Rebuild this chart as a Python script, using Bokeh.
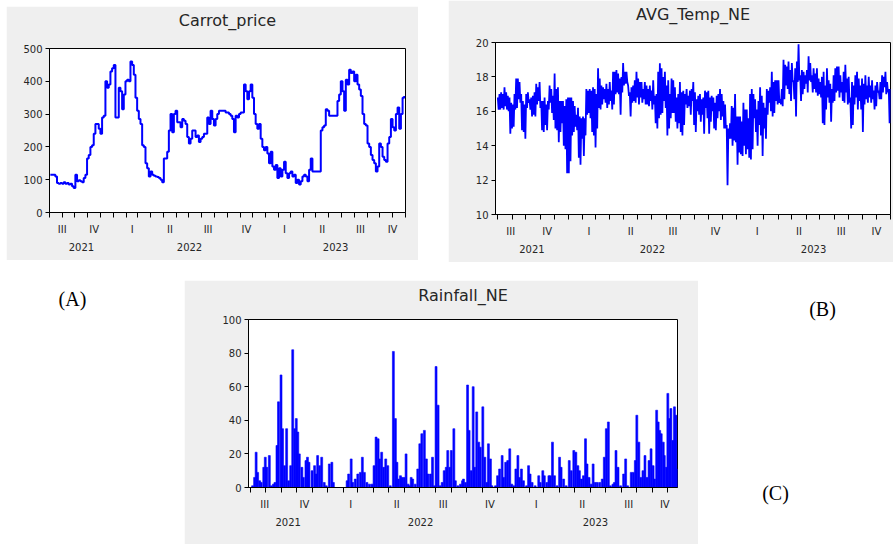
import pandas as pd
from bokeh.plotting import figure
from bokeh.models import (Range1d, FixedTicker, LinearAxis, CustomJSTickFormatter,
                          Label, Spacer)
from bokeh.layouts import row, column
from bokeh.embed import file_html
from bokeh.resources import INLINE

# ---------------- DATA ----------------
# Carrot price, one reading every 4 days from 2021-08-03
carrot_start = "2021-08-03"
carrot_price = [
    115, 115, 115, 110, 90, 88, 90, 88, 92, 88,
    90, 85, 88, 80, 75, 115, 95, 98, 95, 92,
    105, 115, 165, 175, 200, 205, 240, 270, 270, 255,
    240, 290, 295, 400, 380, 390, 430, 440, 450, 290,
    290, 380, 370, 315, 360, 400, 405, 400, 460, 450,
    420, 350, 310, 285, 270, 205, 200, 150, 135, 110,
    125, 115, 112, 110, 108, 105, 100, 92, 165, 165,
    185, 250, 300, 245, 300, 310, 275, 275, 260, 285,
    280, 270, 230, 210, 225, 250, 250, 230, 235, 215,
    225, 230, 240, 240, 290, 270, 310, 285, 265, 285,
    300, 310, 310, 310, 310,
    305, 305, 300, 295, 285, 245, 295, 290, 300, 305,
    305, 390, 370, 345, 370, 390, 350, 300, 270, 255,
    270, 225, 200, 190, 200, 180, 150, 185, 140, 130,
    145, 105, 135, 110, 130, 155, 120, 105, 120, 125,
    110, 115, 90, 100, 85, 95, 110, 115, 110, 95,
    130, 165, 125, 125, 125, 125, 125, 250, 260, 265,
    315, 310, 295, 295, 295, 295, 295, 340, 360, 400,
    370, 310, 405, 390, 435, 425, 430, 400, 420, 390,
    375, 355, 300, 270, 265, 210, 200, 175, 160, 150,
    125, 140, 210, 200, 170, 160, 155, 210, 230, 285,
    260, 250, 300, 320, 255, 300, 350, 355,
]

# Average temperature NE: upper and lower swing of each ~3.6-day step from 2021-08-01
temp_start = "2021-08-01"
temp_high = [
    16.8, 17.0, 17.1, 17.0, 17.4, 17.1, 16.9, 16.8, 16.5, 16.4,
    17.0, 17.9, 17.9, 17.7, 17.0, 16.6, 16.4, 17.0, 17.1, 16.7,
    16.8, 16.9, 17.1, 17.6, 17.4, 17.7, 16.6, 16.6, 16.8, 16.4,
    16.6, 17.5, 17.3, 16.9, 18.2, 17.3, 17.4, 16.6, 16.6, 16.6,
    16.3, 16.7, 16.8, 16.8, 16.8, 16.6, 16.3, 15.8, 16.2, 15.7,
    15.6, 15.7, 15.6, 17.3, 17.2, 17.3, 17.2, 17.4, 17.3, 17.0,
    18.5, 17.9, 17.5, 17.4, 17.3, 17.6, 17.3, 17.7, 17.2, 18.3,
    18.3, 18.4, 18.2, 17.9, 18.0, 18.8, 18.3, 18.3, 17.5, 17.1,
    17.4, 17.5, 17.8, 18.3, 17.9, 17.7, 17.7, 17.3, 17.7, 17.5,
    17.3, 17.5, 17.2, 17.8, 16.9, 17.0, 18.3, 18.8, 18.5, 18.0,
    18.3, 17.5, 17.8, 17.0, 17.9, 17.8, 17.4, 16.8, 17.0, 17.7,
    17.1, 17.2, 17.0, 17.3, 16.9, 17.2,
    17.3, 17.7, 17.1, 16.7, 16.9, 17.0, 16.7, 16.8, 17.2, 17.1,
    17.2, 16.8, 16.9, 16.8, 16.5, 16.9, 17.0, 17.3, 17.0, 16.6,
    16.4, 15.2, 15.0, 15.3, 16.3, 16.2, 17.0, 15.7, 15.7, 15.7,
    15.4, 16.5, 16.1, 16.1, 15.6, 17.0, 17.3, 17.0, 16.7, 16.1,
    16.6, 17.4, 16.9, 16.5, 16.2, 17.3, 17.2, 17.4, 18.3, 17.7,
    17.8, 17.8, 17.8, 16.7, 17.3, 19.0, 18.7, 18.6, 18.9, 18.4,
    18.8, 17.8, 18.5, 18.9, 19.9, 18.1, 18.4, 18.3, 18.1, 18.4,
    19.2, 18.8, 18.1, 18.5, 18.2, 18.5, 17.9, 17.7, 18.0, 18.3,
    17.5, 18.5, 17.8, 17.6, 17.3, 18.1, 18.5, 18.6, 18.6, 18.1,
    17.7, 18.3, 18.7, 17.9, 18.0, 16.8, 17.7, 17.5, 18.1, 18.3,
    17.9, 17.5, 17.9, 17.6, 18.1, 17.5, 18.0, 17.5, 17.8, 17.2,
    17.5, 17.7, 17.2, 17.7, 18.1, 18.0, 18.3, 17.7, 17.3, 17.3,
]
temp_low = [
    16.1, 16.1, 16.2, 16.1, 16.3, 16.1, 16.0, 14.7, 15.0, 15.1,
    16.1, 16.2, 16.7, 16.5, 14.9, 14.8, 14.4, 16.2, 16.5, 16.1,
    15.7, 15.8, 15.7, 16.4, 16.6, 16.2, 14.9, 14.8, 15.2, 14.9,
    16.1, 16.5, 15.9, 15.5, 15.0, 14.9, 14.2, 14.8, 15.3, 14.0,
    13.8, 12.4, 12.4, 13.1, 14.6, 14.8, 15.1, 14.9, 13.3, 12.9,
    14.4, 13.4, 14.6, 15.8, 15.9, 15.6, 14.8, 14.6, 13.9, 15.0,
    16.2, 16.1, 16.4, 16.7, 16.5, 16.2, 16.4, 16.6, 16.1, 16.4,
    17.0, 17.1, 17.0, 15.8, 17.1, 17.5, 17.6, 17.7, 16.9, 15.7,
    16.5, 16.6, 16.5, 16.8, 16.4, 16.8, 16.5, 16.7, 16.4, 16.4,
    16.3, 16.6, 16.1, 16.4, 15.3, 15.0, 15.6, 15.8, 15.9, 16.6,
    16.2, 14.6, 15.0, 15.6, 15.9, 15.9, 15.4, 15.0, 15.3, 14.8,
    14.6, 15.2, 16.4, 16.2, 16.3, 15.8,
    16.6, 15.2, 14.8, 16.0, 15.8, 15.4, 15.8, 14.7, 16.2, 15.6,
    14.7, 15.4, 16.0, 15.0, 14.9, 15.6, 16.0, 15.5, 15.7, 15.0,
    15.0, 11.7, 14.4, 14.4, 14.0, 14.3, 14.2, 12.9, 13.6, 13.5,
    13.4, 14.0, 13.5, 13.8, 13.3, 13.2, 13.8, 15.6, 14.8, 14.0,
    15.2, 14.6, 13.4, 15.0, 14.4, 15.8, 16.5, 16.0, 15.7, 15.9,
    16.6, 16.4, 16.5, 16.4, 16.3, 16.7, 17.5, 17.3, 17.0, 16.6,
    17.7, 16.7, 15.7, 17.7, 17.8, 16.6, 17.0, 17.3, 17.6, 17.1,
    17.8, 17.7, 17.1, 17.3, 17.1, 16.9, 17.0, 16.8, 15.3, 15.2,
    16.1, 16.8, 16.5, 15.4, 16.5, 16.6, 17.1, 17.2, 16.8, 17.1,
    16.6, 16.5, 17.1, 16.4, 16.5, 15.0, 15.2, 16.4, 16.8, 16.1,
    16.6, 16.1, 14.8, 16.4, 16.7, 16.5, 16.8, 16.5, 16.7, 16.1,
    16.3, 17.1, 16.7, 16.7, 17.1, 17.4, 17.0, 17.1, 15.3, 16.5,
]

# Rainfall NE: rainy days (days after 2021-07-29) and amounts
rain_start = "2021-07-29"
rain_day = [
    8, 12, 15, 18, 22, 25, 30, 33, 36, 41,
    45, 49, 52, 56, 59, 64, 67, 71, 75, 79,
    83, 87, 91, 94, 97, 100, 105, 108, 113, 116,
    119, 125, 130, 133, 136, 140, 144, 149, 153, 159,
    164, 167, 194, 197, 202, 205, 210, 215, 220, 224,
    228, 233, 238, 243, 247, 251, 255, 258, 262, 266,
    270, 274, 279, 285, 289, 292, 295, 299, 302, 306,
    310, 314, 317, 320, 323, 328, 333, 337, 341, 346,
    350, 353, 358, 362, 366, 369, 373, 377, 381, 385,
    389, 392, 396, 399, 404, 407, 412, 417, 421, 423,
    427, 431, 434, 438, 442, 445, 449, 453, 456, 461,
    465, 469, 472, 476, 479, 486, 490, 494, 499, 502,
    506, 510, 514, 518, 522, 526, 530, 533, 537, 541,
    547, 551, 554, 558, 564, 571, 574, 579, 582, 587,
    591, 594, 598, 602, 607, 612, 615, 620, 625, 631,
    635, 640, 644, 648, 651, 655, 659, 663, 666, 670,
    674, 678, 682, 686, 691, 696, 700, 704, 708, 712,
    717, 720, 723, 727, 732, 738, 742, 746, 753, 757,
    761, 764, 768, 772, 776, 780, 784, 788, 792, 796,
    799, 803, 806, 809, 812, 816, 818, 822, 825, 828,
    831, 835, 838, 841, 843,
]
rain_mm = [
    1, 6, 21, 9, 4, 3, 12, 18, 12, 19,
    1, 2, 3, 25, 51, 67, 35, 13, 35, 4,
    13, 82, 35, 41, 33, 20, 12, 6, 16, 18,
    15, 10, 13, 8, 19, 13, 18, 3, 1, 14,
    15, 3, 4, 8, 17, 3, 5, 8, 9, 18,
    9, 3, 2, 2, 13, 30, 29, 17, 21, 12,
    17, 13, 1, 81, 41, 15, 5, 7, 6, 6,
    20, 2, 1, 6, 5, 2, 11, 26, 32, 34,
    17, 8, 8, 18, 1, 72, 49, 1, 3, 10,
    12, 22, 12, 22, 35, 4, 1, 2, 4, 5,
    3, 61, 34, 10, 60, 12, 45, 27, 24, 48,
    18, 3, 26, 17, 1, 1, 7, 11, 19, 6,
    15, 16, 23, 2, 1, 11, 19, 6, 11, 4,
    1, 13, 8, 3, 1, 7, 3, 10, 7, 3,
    7, 7, 27, 7, 1, 18, 12, 5, 1, 16,
    10, 22, 21, 13, 10, 5, 7, 29, 14, 6,
    2, 14, 3, 3, 3, 5, 18, 35, 39, 1,
    2, 3, 22, 12, 1, 8, 17, 1, 9, 9,
    16, 43, 27, 6, 10, 19, 6, 16, 23, 13,
    5, 46, 39, 34, 32, 27, 19, 12, 56, 41,
    47, 28, 48, 43, 11,
]

carrot_ticks = [0, 100, 200, 300, 400, 500]
temp_ticks = [10, 12, 14, 16, 18, 20]
rain_ticks = [0, 20, 40, 60, 80, 100]
quarter_names = ["I", "II", "III", "IV"]
years = [2021, 2022, 2023]

# ---------------- HELPERS ----------------
DAY_MS = 86400000
TXT = "#262626"
GREY = "#efefef"
BLUE = "#0000ff"
SANS = "DejaVu Sans"


def ms(d):
    return pd.Timestamp(d).value // 10**6


def period_marks(start, end):
    s, e = pd.Timestamp(start), pd.Timestamp(end)
    months = [ms(d) for d in pd.date_range("2021-01-01", "2024-12-01", freq="MS") if s <= d <= e]
    qt, ql = [], []
    for q in pd.date_range("2021-01-01", "2024-10-01", freq="3MS"):
        a, b = max(q, s), min(q + pd.DateOffset(months=3), e)
        if b > a:
            qt.append((ms(a) + ms(b)) / 2)
            ql.append(quarter_names[(q.month - 1) // 3])
    yt, yl = [], []
    for yr in years:
        y0 = pd.Timestamp(f"{yr}-01-01")
        a, b = max(y0, s), min(y0 + pd.DateOffset(years=1), e)
        if b > a:
            yt.append((ms(a) + ms(b)) / 2)
            yl.append(str(yr))
    return months, qt, ql, yt, yl


FMT = ("for (let i = 0; i < tv.length; i++) { if (Math.abs(tv[i] - tick) < 1000) "
       "{ return lb[i]; } } return '';")


def panel(title, width, height, borders, xr, yr, yticks, title_pad):
    l, r, t, b = borders
    p = figure(width=width, height=height,
               x_range=Range1d(ms(xr[0]), ms(xr[1])), y_range=Range1d(*yr),
               output_backend="svg", toolbar_location=None,
               x_axis_location=None, y_axis_location="left",
               min_border_left=l, min_border_right=r,
               min_border_top=t, min_border_bottom=b)
    p.grid.grid_line_color = None
    p.background_fill_color = "white"
    p.border_fill_color = GREY
    p.outline_line_color = "black"
    p.outline_line_alpha = 1.0
    p.outline_line_width = 1
    p.title.text = title
    p.title.align = "center"
    p.title.text_font = SANS
    p.title.text_font_size = "16px"
    p.title.text_font_style = "normal"
    p.title.text_color = TXT
    p.title.standoff = 4
    p.title.padding = dict(left=0, right=0, top=0, bottom=title_pad)

    ya = p.yaxis[0]
    ya.ticker = FixedTicker(ticks=yticks)
    ya.major_tick_in = 0
    ya.major_tick_out = 4
    ya.minor_tick_line_color = None
    ya.axis_line_color = "black"
    ya.major_label_text_font = SANS
    ya.major_label_text_font_size = "10px"
    ya.major_label_text_color = TXT
    ya.major_label_standoff = 3

    months, qt, ql, yt, yl = period_marks(*xr)
    qa = LinearAxis(ticker=FixedTicker(ticks=qt, minor_ticks=months),
                    formatter=CustomJSTickFormatter(args=dict(tv=qt, lb=ql), code=FMT))
    qa.major_tick_line_color = None
    qa.major_tick_in = 0
    qa.major_tick_out = 0
    qa.minor_tick_in = 0
    qa.minor_tick_out = 5
    qa.minor_tick_line_color = "black"
    qa.minor_tick_line_width = 1
    qa.axis_line_color = "black"
    qa.major_label_text_font = SANS
    qa.major_label_text_font_size = "10px"
    qa.major_label_text_color = TXT
    qa.major_label_standoff = 6
    p.add_layout(qa, "below")

    ya2 = LinearAxis(ticker=FixedTicker(ticks=yt, minor_ticks=[]),
                     formatter=CustomJSTickFormatter(args=dict(tv=yt, lb=yl), code=FMT))
    ya2.axis_line_color = None
    ya2.major_tick_line_color = None
    ya2.minor_tick_line_color = None
    ya2.major_tick_in = 0
    ya2.major_tick_out = 0
    ya2.major_label_text_font = SANS
    ya2.major_label_text_font_size = "10px"
    ya2.major_label_text_color = TXT
    ya2.major_label_standoff = 5
    p.add_layout(ya2, "below")
    return p


def label_fig(width, height, labels):
    f = figure(width=width, height=height, x_range=Range1d(0, width),
               y_range=Range1d(0, height),
               output_backend="svg", toolbar_location=None, min_border=0,
               x_axis_location=None, y_axis_location=None)
    f.title.visible = False
    f.grid.grid_line_color = None
    f.outline_line_color = None
    f.background_fill_color = "white"
    f.border_fill_color = "white"
    for txt, x, y in labels:
        f.add_layout(Label(x=x, y=height - y, text=txt, text_font="Liberation Serif",
                           text_font_size="20px", text_color="black",
                           text_align="center", text_baseline="middle"))
    return f


# ---------------- PANEL A: Carrot price ----------------
pA = panel("Carrot_price", 412, 254, (43, 13, 42, 48),
           ("2021-08-01", "2023-12-02"), (0, 500), carrot_ticks, 17)
carrot_x = [ms(d) for d in pd.date_range(carrot_start, periods=len(carrot_price), freq="4D")]
pA.step(carrot_x, carrot_price, mode="after", line_color=BLUE, line_width=2)

# ---------------- PANEL B: AVG temperature ----------------
pB = panel("AVG_Temp_NE", 445, 262, (47, 3, 42, 48),
           ("2021-07-27", "2023-12-01"), (10, 20), temp_ticks, 17)
t_hi_x = [ms(d) for d in pd.date_range(temp_start, periods=len(temp_high), freq="87h")]
temp_x, temp_y = [], []
for xh, h, lo in zip(t_hi_x, temp_high, temp_low):
    temp_x += [xh, xh + 1.8 * DAY_MS]
    temp_y += [h, lo]
pB.line(temp_x, temp_y, line_color=BLUE, line_width=1.8)

# ---------------- PANEL C: Rainfall ----------------
C_H = 264
pC = panel("Rainfall_NE", 514, C_H, (64, 21, 39, 57),
           ("2021-07-29", "2023-11-20"), (0, 100), rain_ticks, 13)
rain_x = [ms(pd.Timestamp(rain_start) + pd.Timedelta(days=d)) for d in rain_day]
pC.vbar(x=rain_x, top=rain_mm, bottom=0, width=3.8 * DAY_MS,
        fill_color=BLUE, line_color=BLUE, line_width=0.6)

# ---------------- LAYOUT ----------------
lA = label_fig(184, C_H, [("(A)", 72, 18)])
lBC = label_fig(195, C_H, [("(B)", 124, 28), ("(C)", 77, 212)])

colA = column(Spacer(width=412, height=6), pA, spacing=0)
row1 = row(Spacer(width=6, height=262), colA, Spacer(width=30, height=262), column(pB), spacing=0)
row2 = row(column(lA), column(pC), column(lBC), spacing=0)
layout = column(row1, Spacer(width=10, height=18), row2, spacing=0)

open("out.html", "w").write(file_html(layout, INLINE))
